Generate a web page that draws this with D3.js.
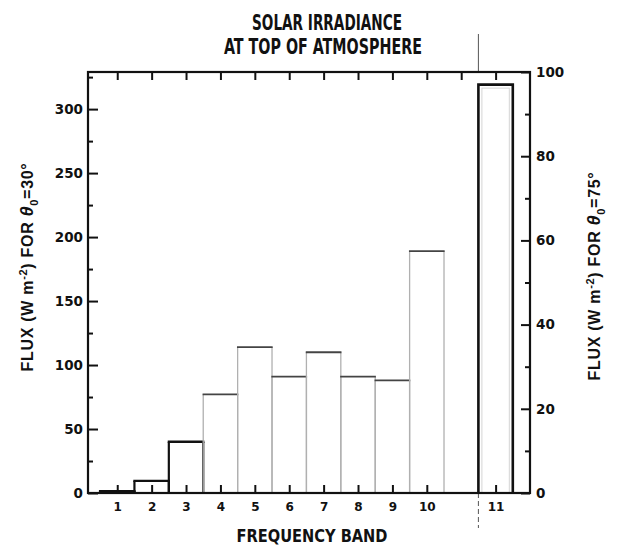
<!DOCTYPE html>
<html>
<head>
<meta charset="utf-8">
<script src="https://cdn.jsdelivr.net/npm/d3@7"></script>
<style>
  html, body { margin: 0; padding: 0; background: #fff; }
  svg { display: block; }
  .narrow { font-family: "Liberation Sans Narrow", "DejaVu Sans Condensed", "Arial Narrow", "Liberation Sans", sans-serif; }
  .tick text { font-family: "DejaVu Sans", sans-serif; font-weight: bold; fill: #111; }
</style>
</head>
<body>
<svg id="chart" width="619" height="549"></svg>
<script>
// Spectral bands and the slot each one occupies along the axis (slot 11 left empty)
const bandLabels = ["1", "2", "3", "4", "5", "6", "7", "8", "9", "10", "11"];
const bandSlots  = [1, 2, 3, 4, 5, 6, 7, 8, 9, 10, 12];
// Flux per band, W m^-2: bands 1-10 on the left scale (theta0 = 30 deg)
const flux30 = [1.5, 9.5, 40, 77, 114, 91, 110, 91, 88, 189];
// Band 11 on the right scale (theta0 = 75 deg)
const flux75 = [97];
const leftMajor  = [0, 50, 100, 150, 200, 250, 300];
const leftMinor  = [25, 75, 125, 175, 225, 275, 325];
const rightMajor = [0, 20, 40, 60, 80, 100];
const rightMinor = [10, 30, 50, 70, 90];
const topTicks   = [1, 2, 3, 4, 5, 6, 7, 8, 9, 10, 11, 12];

const svg = d3.select("#chart");
const L = 88, R = 530, T = 72, B = 493;

const x  = d3.scaleLinear().domain([0.15, 13.0]).range([L, R]);
const yL = d3.scaleLinear().domain([0, 329]).range([B, T]);
const yR = d3.scaleLinear().domain([0, 100]).range([B, T]);

// Divider in front of band 11: solid above the frame, dashed below it
const xDiv = x(11.5);
svg.append("line").attr("x1", xDiv).attr("x2", xDiv).attr("y1", 34).attr("y2", T)
  .attr("stroke", "#555").attr("stroke-width", 1);
svg.append("line").attr("x1", xDiv).attr("x2", xDiv).attr("y1", B).attr("y2", 528)
  .attr("stroke", "#555").attr("stroke-width", 1).attr("stroke-dasharray", "5,3");

// Bars for bands 1-10 (left scale)
const bars = flux30.map((v, i) => ({ slot: bandSlots[i], v: v, i: i }));
const g = svg.append("g");
bars.forEach(d => {
  const x0 = x(d.slot - 0.5), x1 = x(d.slot + 0.5), yt = yL(d.v);
  const strong = d.i < 3;
  const side = strong ? "#111" : "#b0b0b0";
  const top  = strong ? "#111" : "#444";
  const w    = strong ? 2.2 : 1.3;
  g.append("line").attr("x1", x0).attr("x2", x0).attr("y1", B).attr("y2", yt)
    .attr("stroke", side).attr("stroke-width", w);
  g.append("line").attr("x1", x1).attr("x2", x1).attr("y1", B).attr("y2", yt)
    .attr("stroke", side).attr("stroke-width", w);
  g.append("line").attr("x1", x0 - w / 2).attr("x2", x1 + w / 2).attr("y1", yt).attr("y2", yt)
    .attr("stroke", top).attr("stroke-width", strong ? 2.4 : 1.8);
});

// Band 11 (right scale)
const b11 = { slot: bandSlots[10], v: flux75[0] };
const bx0 = x(b11.slot - 0.5), bx1 = x(b11.slot + 0.5), byt = yR(b11.v);
svg.append("rect").attr("x", bx0 + 3.5).attr("y", byt + 3.5)
  .attr("width", bx1 - bx0 - 7).attr("height", B - byt - 3.5)
  .attr("fill", "none").attr("stroke", "#d4d4d4").attr("stroke-width", 1);
svg.append("path")
  .attr("d", `M${bx0},${B}V${byt}H${bx1}V${B}`)
  .attr("fill", "none").attr("stroke", "#111").attr("stroke-width", 2.6);

// Axes: ticks point into the frame
function styleAxis(sel, fs) {
  sel.select(".domain").remove();
  sel.selectAll(".tick line").attr("stroke", "#111").attr("stroke-width", 2);
  sel.selectAll(".tick text").attr("font-size", fs);
}

svg.append("g").attr("transform", `translate(${L},0)`)
  .call(d3.axisLeft(yL).tickValues(leftMajor).tickSizeInner(-10).tickSizeOuter(0).tickPadding(5))
  .call(s => styleAxis(s, 13.5));
svg.append("g").attr("transform", `translate(${L},0)`)
  .call(d3.axisLeft(yL).tickValues(leftMinor).tickSizeInner(-5).tickSizeOuter(0).tickFormat(""))
  .call(s => styleAxis(s, 13));

svg.append("g").attr("transform", `translate(${R},0)`)
  .call(d3.axisRight(yR).tickValues(rightMajor).tickSizeInner(-9).tickSizeOuter(0).tickPadding(6))
  .call(s => styleAxis(s, 13.5));
svg.append("g").attr("transform", `translate(${R},0)`)
  .call(d3.axisRight(yR).tickValues(rightMinor).tickSizeInner(-5).tickSizeOuter(0).tickFormat(""))
  .call(s => styleAxis(s, 13));

svg.append("g").attr("transform", `translate(0,${B})`)
  .call(d3.axisBottom(x).tickValues(bandSlots).tickSizeInner(-8).tickSizeOuter(0).tickPadding(9)
    .tickFormat((d, i) => bandLabels[i]))
  .call(s => styleAxis(s, 12));

svg.append("g").attr("transform", `translate(0,${T})`)
  .call(d3.axisTop(x).tickValues(topTicks).tickSizeInner(-8).tickSizeOuter(0).tickFormat(""))
  .call(s => styleAxis(s, 11));

// Frame
svg.append("rect").attr("x", L).attr("y", T).attr("width", R - L).attr("height", B - T)
  .attr("fill", "none").attr("stroke", "#111").attr("stroke-width", 2.2);

// Titles
svg.append("text").attr("class", "narrow").attr("x", 327).attr("y", 30)
  .attr("text-anchor", "middle").attr("font-size", 22).attr("font-weight", "bold").attr("fill", "#111")
  .attr("textLength", 150).attr("lengthAdjust", "spacingAndGlyphs")
  .text("SOLAR IRRADIANCE");
svg.append("text").attr("class", "narrow").attr("x", 323).attr("y", 54)
  .attr("text-anchor", "middle").attr("font-size", 22).attr("font-weight", "bold").attr("fill", "#111")
  .attr("textLength", 198).attr("lengthAdjust", "spacingAndGlyphs")
  .text("AT TOP OF ATMOSPHERE");
svg.append("text").attr("class", "narrow").attr("x", 312).attr("y", 542)
  .attr("text-anchor", "middle").attr("font-size", 18).attr("font-weight", "bold").attr("fill", "#111")
  .attr("textLength", 151).attr("lengthAdjust", "spacingAndGlyphs")
  .text("FREQUENCY BAND");

// Rotated axis titles with superscript and subscript
function fluxLabel(cx, cy, angle) {
  const t = svg.append("text")
    .attr("transform", `translate(${cx},${cy}) rotate(-90)`)
    .attr("text-anchor", "middle")
    .attr("font-family", "'Liberation Sans', Arial, sans-serif")
    .attr("font-weight", "bold").attr("font-size", 16).attr("letter-spacing", 0.7)
    .attr("fill", "#111");
  t.append("tspan").text("FLUX (W m");
  t.append("tspan").attr("dy", -6).attr("font-size", 11).text("-2");
  t.append("tspan").attr("dy", 6).text(") FOR ");
  t.append("tspan").attr("font-style", "italic").attr("font-size", 18).text("θ");
  t.append("tspan").attr("dy", 5).attr("font-size", 11).text("0");
  t.append("tspan").attr("dy", -5).text("=" + angle + "°");
}
fluxLabel(33, 267, 30);
fluxLabel(600, 276, 75);
</script>
</body>
</html>
